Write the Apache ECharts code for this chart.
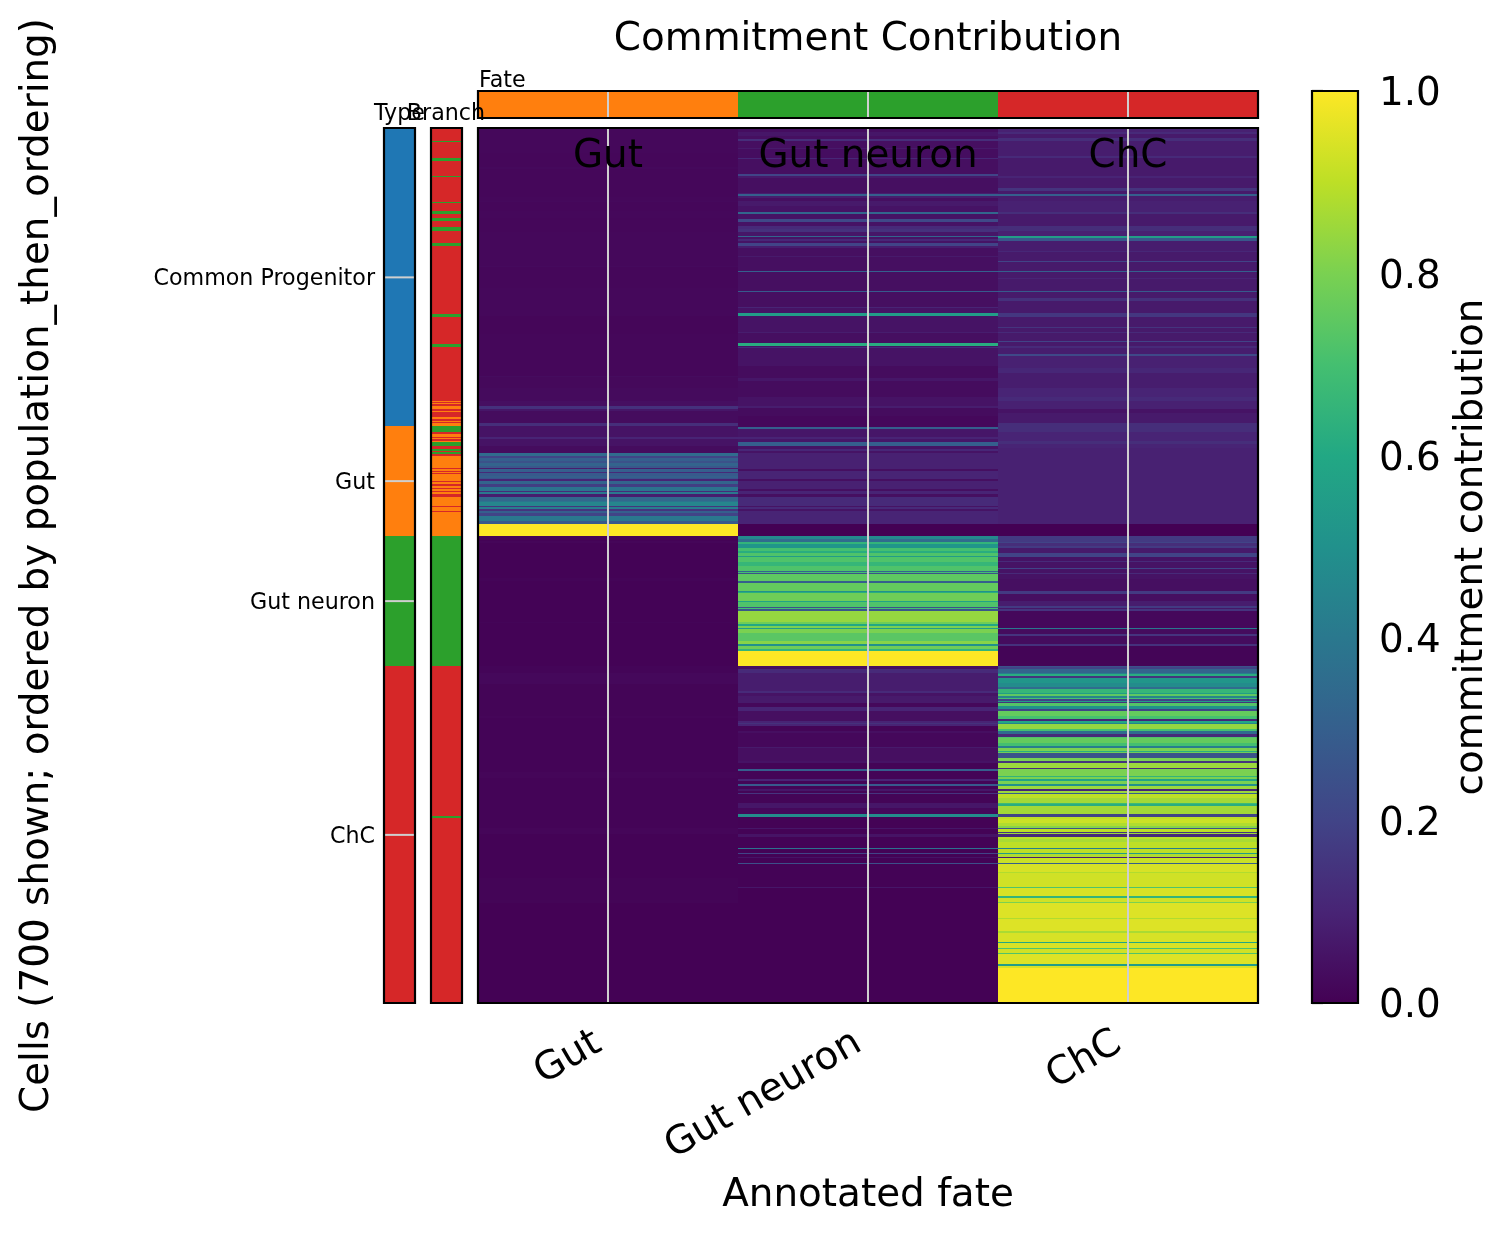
<!DOCTYPE html>
<html>
<head>
<meta charset="utf-8">
<style>html,body{margin:0;padding:0;background:#fff}#chart{width:1508px;height:1234px}</style>
<script src="https://cdn.jsdelivr.net/npm/echarts@6/dist/echarts.min.js"></script>
</head>
<body>
<div id="chart"></div>
<script>
const ROW_COUNT = 700;
const fates = ['Gut', 'Gut neuron', 'ChC'];
const cellTypeNames = ['Common Progenitor', 'Gut', 'Gut neuron', 'ChC'];
const cellTypeColors = ['#1f77b4', '#ff7f0e', '#2ca02c', '#d62728'];
const fateColorIndex = [1, 2, 3];
const typeTickRows = { 119: 'Common Progenitor', 282: 'Gut', 378: 'Gut neuron', 565: 'ChC' };
const colorbarTicks = [0, 0.2, 0.4, 0.6, 0.8, 1];
const viridis = ['#440154', '#482475', '#414487', '#355f8d', '#2a788e', '#21918c', '#22a884', '#44bf70', '#7ad151', '#bddf26', '#fde725'];

// Every run is [first row, value]; it lasts until the next run starts.
const typeRuns = [[0, 0], [238, 1], [326, 2], [430, 3]];
const branchRuns = [
  [0, 3], [10, 2], [11, 3], [24, 2], [26, 3], [38, 2], [39, 3], [59, 2], [60, 3], [66, 2], [69, 3], [72, 2], [74, 3],
  [79, 2], [82, 3], [92, 2], [94, 3], [149, 2], [151, 3], [173, 2], [175, 3],
  [218, 1], [219, 3], [220, 1], [221, 3], [222, 1], [225, 3], [226, 1], [227, 3], [231, 1], [233, 3], [234, 1], [235, 3],
  [236, 1], [238, 2], [243, 3], [245, 1], [247, 3], [248, 1], [249, 3], [250, 1], [251, 2], [254, 3], [257, 2], [258, 3],
  [259, 2], [261, 3], [262, 1], [272, 3], [273, 1], [274, 3], [275, 1], [276, 3], [277, 1], [282, 3], [283, 1], [285, 3],
  [286, 1], [288, 3], [289, 1], [290, 3], [291, 1], [293, 3], [295, 1], [302, 3], [303, 1], [306, 3], [307, 1],
  [326, 2], [430, 3], [550, 2], [552, 3]
];
const gutRuns = [
  [0, .02], [20, .018], [31, .023], [33, .018], [55, .02], [58, .024], [59, .017], [66, .02], [72, .017], [83, .02],
  [110, .026], [111, .018], [128, .02], [150, .014], [165, .018], [198, .03], [199, .022], [208, .028], [218, .04],
  [222, .14], [225, .06], [226, .03], [236, .13], [238, .05],
  [247, .1], [249, .05], [254, .03], [260, .35], [262, .2], [264, .3], [266, .25], [268, .32], [270, .27], [272, .08],
  [273, .3], [275, .12], [276, .28], [278, .3], [280, .26], [281, .1], [282, .32], [285, .18], [287, .38], [290, .12],
  [291, .4], [293, .08], [295, .33], [298, .38], [299, .45], [302, .15], [303, .42], [305, .15], [306, .3], [308, .2],
  [310, .4], [314, .28], [317, 1], [326, .005], [330, .015], [332, .005], [360, .012], [362, .005], [395, .012],
  [396, .005], [430, .012], [436, .02], [445, .01], [470, .015], [472, .008], [515, .015], [520, .008], [560, .015],
  [565, .005], [600, .01], [620, .004]
];
const neuronRuns = [
  [0, .035], [3, .06], [6, .04], [9, .13], [10, .04], [16, .07], [17, .035], [24, .11], [25, .04], [37, .2], [38, .07],
  [40, .04], [52, .08], [53, .3], [54, .08], [56, .04], [58, .07], [62, .05], [67, .33], [69, .05], [73, .22], [75, .05],
  [78, .12], [81, .14], [83, .06], [86, .32], [87, .05], [89, .11], [90, .05], [92, .2], [94, .08], [96, .04], [102, .07],
  [103, .04], [114, .3], [115, .04], [130, .28], [131, .04], [143, .1], [144, .05], [148, .55], [150, .05], [163, .08],
  [164, .04], [172, .62], [174, .05], [175, .12], [176, .05], [190, .03], [200, .06], [202, .03], [215, .05], [222, .08],
  [224, .03], [230, .02], [239, .3], [241, .06], [247, .1], [249, .06], [251, .3], [254, .05], [257, .11], [258, .05],
  [260, .09], [273, .04], [274, .1], [281, .04], [282, .09], [289, .04], [290, .1], [293, .04], [295, .12], [302, .05],
  [303, .12], [305, .05], [306, .1], [317, 0], [326, .47], [329, .35], [331, .65], [333, .52], [336, .7], [338, .62],
  [340, .72], [342, .55], [343, .72], [347, .66], [350, .72], [354, .32], [355, .7], [356, .25], [357, .75], [362, .3],
  [364, .76], [370, .5], [371, .62], [372, .78], [378, .58], [379, .72], [383, .25], [384, .7], [385, .27], [386, .84],
  [395, .78], [397, .6], [398, .8], [400, .55], [401, .8], [404, .74], [410, .82], [413, .5], [414, .78], [417, .65],
  [418, 1], [430, .04], [433, .12], [436, .08], [450, .12], [452, .05], [454, .07], [460, .02], [463, .1], [466, .04],
  [474, .1], [476, .14], [477, .1], [478, .01], [482, .04], [484, .02], [495, .07], [496, .04], [506, .05], [508, .01],
  [513, .3], [514, .01], [521, .1], [522, .01], [525, .28], [526, .01], [529, .06], [530, .01], [532, .15], [533, .01],
  [540, .06], [544, .02], [549, .48], [551, .005], [560, .06], [561, .005], [565, .05], [567, .005], [576, .38], [577, .005],
  [580, .2], [581, .005], [583, .05], [584, .005], [588, .24], [589, .005], [607, .06], [608, .002]
];
const chcRuns = [
  [0, .09], [3, .12], [5, .07], [8, .13], [10, .08], [22, .12], [24, .07], [38, .1], [40, .07], [48, .15], [50, .07],
  [53, .3], [54, .08], [58, .09], [67, .13], [69, .07], [78, .13], [82, .09], [86, .55], [88, .27], [90, .08], [98, .11],
  [99, .07], [106, .2], [107, .07], [114, .3], [115, .07], [120, .1], [121, .07], [130, .28], [131, .07], [136, .14],
  [138, .07], [148, .16], [151, .07], [159, .15], [160, .07], [163, .12], [164, .07], [170, .2], [171, .07], [174, .12],
  [176, .08], [181, .22], [182, .09], [192, .11], [196, .08], [208, .1], [215, .12], [218, .09], [225, .05], [228, .07],
  [236, .13], [243, .1], [250, .13], [253, .1], [256, .09], [317, 0], [326, .17], [331, .2], [332, .13], [334, .17],
  [336, .07], [340, .2], [343, .05], [346, .12], [347, .05], [352, .2], [353, .05], [356, .12], [357, .05], [361, .04],
  [370, .17], [373, .04], [378, .08], [382, .17], [384, .06], [385, .15], [386, .02], [400, .4], [401, .03], [405, .15],
  [406, .03], [413, .14], [414, .01], [430, .25], [431, .2], [433, .32], [436, .42], [437, .62], [438, .15], [440, .52],
  [444, .48], [447, .35], [449, .66], [452, .55], [453, .75], [454, .45], [456, .7], [457, .2], [458, .55], [459, .15],
  [460, .73], [462, .5], [465, .2], [466, .76], [470, .7], [473, .1], [474, .6], [476, .45], [477, .84], [481, .7],
  [482, .35], [485, .12], [487, .72], [488, .76], [492, .7], [494, .42], [496, .8], [498, .62], [499, .78], [500, .25],
  [504, .8], [506, .15], [508, .85], [512, .12], [513, .8], [518, .65], [519, .8], [521, .58], [522, .8], [525, .5],
  [526, .85], [529, .1], [530, .85], [532, .3], [533, .9], [536, .86], [540, .68], [541, .62], [542, .86], [549, .2],
  [551, .9], [553, .92], [556, .88], [558, .82], [560, .25], [561, .9], [563, .15], [564, .85], [565, .12], [567, .9],
  [569, .87], [571, .9], [576, .42], [577, .9], [580, .55], [581, .88], [583, .08], [584, .92], [588, .3], [589, .94],
  [595, .88], [596, .93], [607, .72], [608, .94], [614, .65], [616, .93], [619, .8], [620, .95], [632, .88], [633, .95],
  [642, .87], [644, .94], [651, .6], [652, .94], [656, .72], [657, .93], [660, .72], [661, .95], [669, .55], [670, .94],
  [672, 1]
];

function expandRuns(runs) {
  const values = [];
  runs.forEach(([start, value], i) => {
    const end = i + 1 < runs.length ? runs[i + 1][0] : ROW_COUNT;
    for (let r = start; r < end; r++) values[r] = value;
  });
  return values;
}

const rowNames = Array.from({ length: ROW_COUNT }, (_, r) => String(r));
const commitment = [gutRuns, neuronRuns, chcRuns].map(expandRuns);
const typeRows = expandRuns(typeRuns);
const branchRows = expandRuns(branchRuns);

const FONT = 'DejaVu Sans';
const LARGE = 38.9;
const SMALL = 22.2;
const GRID_COLOR = '#cfcfcf';

function frameSeries(gridIndex) {
  return {
    type: 'custom', xAxisIndex: gridIndex, yAxisIndex: gridIndex, silent: true, z: 8,
    data: [[0, 0]],
    renderItem(params) {
      const c = params.coordSys;
      return { type: 'rect', shape: { x: c.x, y: c.y, width: c.width, height: c.height },
        style: { fill: 'none', stroke: '#000', lineWidth: 2.2 } };
    }
  };
}
function verticalGuides(gridIndex) {
  return {
    type: 'custom', xAxisIndex: gridIndex, yAxisIndex: gridIndex, silent: true, z: 5,
    data: fates.map((_, i) => [i, 0]),
    renderItem(params, api) {
      const c = params.coordSys, x = api.coord([api.value(0), 0])[0];
      return { type: 'line', shape: { x1: x, y1: c.y, x2: x, y2: c.y + c.height },
        style: { stroke: GRID_COLOR, lineWidth: 2 } };
    }
  };
}
// Cells are snapped to whole pixels so that neighbouring rows meet without a seam.
function cells(gridIndex, data) {
  return {
    type: 'custom', xAxisIndex: gridIndex, yAxisIndex: gridIndex, silent: true, z: 2,
    progressive: 0, encode: { x: 0, y: 1 }, data,
    renderItem(params, api) {
      const p = api.coord([api.value(0), api.value(1)]), s = api.size([1, 1]);
      const x0 = Math.round(p[0] - s[0] / 2), x1 = Math.round(p[0] + s[0] / 2);
      const y0 = Math.round(p[1] - s[1] / 2), y1 = Math.round(p[1] + s[1] / 2);
      return { type: 'rect', shape: { x: x0, y: y0, width: x1 - x0, height: y1 - y0 },
        style: { fill: api.visual('color') } };
    }
  };
}
const hiddenCat = (data, extra) => Object.assign({ type: 'category', data, axisLine: { show: false },
  axisTick: { show: false }, axisLabel: { show: false }, splitLine: { show: false } }, extra || {});
const smallCaption = (text, left, top, align) => ({ text, left, top, textAlign: align, padding: 0,
  textStyle: { fontFamily: FONT, fontSize: SMALL, fontWeight: 'normal', color: '#000' } });

const option = {
  animation: false,
  backgroundColor: '#fff',
  textStyle: { fontFamily: FONT },
  title: [
    { text: 'Commitment Contribution', left: 868, top: 20, textAlign: 'center', padding: 0,
      textStyle: { fontFamily: FONT, fontSize: LARGE, fontWeight: 'normal', color: '#000' } },
    smallCaption('Type', 399.5, 103, 'center'),
    smallCaption('Branch', 446, 103, 'center'),
    smallCaption('Fate', 479, 70, 'left')
  ],
  grid: [
    { left: 384, top: 128, width: 31, height: 875 },
    { left: 431, top: 128, width: 31, height: 875 },
    { left: 478, top: 128, width: 780, height: 875 },
    { left: 478, top: 91, width: 780, height: 27 },
    { left: 1312, top: 91, width: 46, height: 912 }
  ],
  xAxis: [
    hiddenCat(['Type'], { gridIndex: 0 }),
    hiddenCat(['Branch'], { gridIndex: 1 }),
    { type: 'category', gridIndex: 2, data: fates, name: 'Annotated fate', nameLocation: 'middle', nameGap: 173,
      nameTextStyle: { fontFamily: FONT, fontSize: LARGE, color: '#000' },
      axisLine: { show: false }, splitLine: { show: false },
      axisTick: { alignWithLabel: true, length: 11, lineStyle: { color: '#000', width: 2.2 } },
      axisLabel: { rotate: 30, margin: 32, padding: [0, 11, 0, 0], fontFamily: FONT, fontSize: LARGE, color: '#000', interval: 0 } },
    hiddenCat(fates, { gridIndex: 3 }),
    { type: 'value', gridIndex: 4, min: 0, max: 1, show: false }
  ],
  yAxis: [
    { type: 'category', gridIndex: 0, data: rowNames, inverse: true,
      name: 'Cells (700 shown; ordered by population_then_ordering)', nameLocation: 'middle', nameGap: 327, nameRotate: 90,
      nameTextStyle: { fontFamily: FONT, fontSize: LARGE, color: '#000' },
      axisLine: { show: false }, axisTick: { show: false }, splitLine: { show: false },
      axisLabel: { margin: 9, fontFamily: FONT, fontSize: SMALL, color: '#000',
        interval: (i) => typeTickRows[i] !== undefined,
        formatter: (v) => (typeTickRows[v] ? '{t|' + typeTickRows[v] + '}' : ''),
        rich: { t: { fontFamily: FONT, fontSize: SMALL, color: '#000', padding: [4, 0, 0, 0] } } } },
    hiddenCat(rowNames, { gridIndex: 1, inverse: true }),
    hiddenCat(rowNames, { gridIndex: 2, inverse: true }),
    hiddenCat(['Fate'], { gridIndex: 3 }),
    { type: 'value', gridIndex: 4, min: 0, max: 1, interval: 0.2, position: 'right',
      name: 'commitment contribution', nameLocation: 'middle', nameGap: 94, nameRotate: 90,
      nameTextStyle: { fontFamily: FONT, fontSize: LARGE, color: '#000' },
      axisLine: { show: false }, splitLine: { show: false },
      axisTick: { show: true, length: 11, lineStyle: { color: '#000', width: 2.2 } },
      axisLabel: { margin: 21, fontFamily: FONT, fontSize: LARGE, color: '#000', customValues: colorbarTicks,
        formatter: (v) => '{t|' + v.toFixed(1) + '}',
        rich: { t: { fontFamily: FONT, fontSize: LARGE, color: '#000', padding: [8, 0, 0, 0] } } } }
  ],
  visualMap: [
    { type: 'continuous', show: false, seriesIndex: [2], dimension: 2, min: 0, max: 1, inRange: { color: viridis } },
    { type: 'piecewise', show: false, seriesIndex: [0, 1, 3], dimension: 2,
      pieces: cellTypeNames.map((_, i) => ({ value: i, color: cellTypeColors[i] })) }
  ],
  series: [
    cells(0, typeRows.map((v, r) => [0, r, v])),
    cells(1, branchRows.map((v, r) => [0, r, v])),
    cells(2, commitment.flatMap((col, c) => col.map((v, r) => [c, r, v]))),
    cells(3, fateColorIndex.map((v, c) => [c, 0, v])),
    verticalGuides(2),
    verticalGuides(3),
    {
      type: 'custom', xAxisIndex: 0, yAxisIndex: 0, silent: true, z: 5,
      data: Object.keys(typeTickRows).map((r) => [0, Number(r)]),
      renderItem(params, api) {
        const c = params.coordSys, y = api.coord([0, api.value(1)])[1];
        return { type: 'line', shape: { x1: c.x, y1: y, x2: c.x + c.width, y2: y },
          style: { stroke: GRID_COLOR, lineWidth: 2 } };
      }
    },
    {
      type: 'custom', xAxisIndex: 2, yAxisIndex: 2, silent: true, z: 6,
      data: fates.map((_, i) => [i, 23]),
      renderItem(params, api) {
        const p = api.coord([api.value(0), api.value(1)]);
        return { type: 'text', style: { x: p[0], y: p[1], text: fates[params.dataIndex], align: 'center',
          verticalAlign: 'middle', fill: '#000', font: LARGE + 'px "' + FONT + '"' } };
      }
    },
    {
      type: 'custom', xAxisIndex: 4, yAxisIndex: 4, silent: true, z: 2,
      data: [[0, 0]],
      renderItem(params) {
        const c = params.coordSys;
        const stops = viridis.map((color, i) => ({ offset: i / (viridis.length - 1), color }));
        return { type: 'rect', shape: { x: c.x, y: c.y, width: c.width, height: c.height },
          style: { fill: new echarts.graphic.LinearGradient(0, 1, 0, 0, stops) } };
      }
    },
    frameSeries(0), frameSeries(1), frameSeries(2), frameSeries(3), frameSeries(4)
  ]
};

echarts.init(document.getElementById('chart'), null, { renderer: 'canvas' }).setOption(option);
</script>
</body>
</html>
